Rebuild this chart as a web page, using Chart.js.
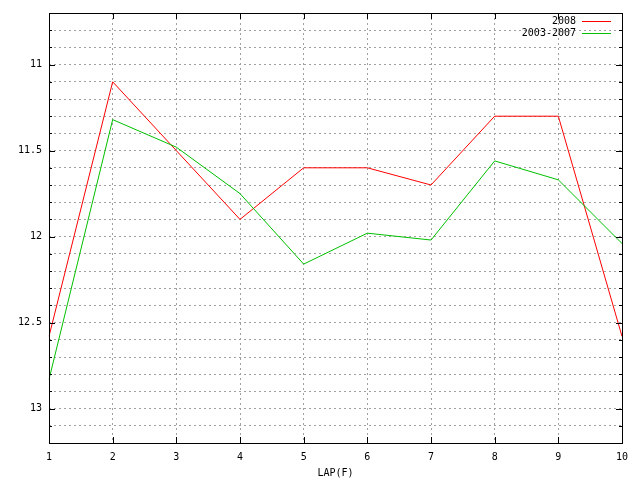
<!DOCTYPE html>
<html>
<head>
<meta charset="utf-8">
<script src="https://cdn.jsdelivr.net/npm/chart.js@4/dist/chart.umd.min.js"></script>
<style>
html,body{margin:0;padding:0;background:#fff;}
#wrap{width:640px;height:480px;position:relative;}
</style>
</head>
<body>
<div id="wrap"><canvas id="c" width="640" height="480"></canvas></div>
<script>
const laps = ['1','2','3','4','5','6','7','8','9','10'];
const series2008 = [12.58, 11.10, 11.50, 11.90, 11.60, 11.60, 11.70, 11.30, 11.30, 12.58];
const series2003_2007 = [12.83, 11.32, 11.48, 11.75, 12.16, 11.98, 12.02, 11.56, 11.67, 12.04];
const yTickLabels = ['11', '11.5', '12', '12.5', '13'];
const xTitle = 'LAP(F)';
const legendLabels = ['2008', '2003-2007'];
const seriesColors = ['#ff0000', '#00c000'];

const FONT = {family: "'DejaVu Sans Mono', 'Liberation Mono', monospace", size: 10};

const framePlugin = {
  id: 'frame',
  afterDraw(chart) {
    const {ctx, chartArea: a} = chart;
    const ys = chart.scales.y, xs = chart.scales.x;
    ctx.save();
    ctx.strokeStyle = '#000';
    ctx.lineWidth = 1;
    ctx.setLineDash([]);
    ctx.beginPath();
    ys.ticks.forEach(t => {
      const y = Math.round(ys.getPixelForValue(t.value)) + 0.5;
      const major = yTickLabels.includes(String(+t.value.toFixed(1)));
      const len = major ? 6 : 3;
      ctx.moveTo(a.left, y); ctx.lineTo(a.left + len, y);
      ctx.moveTo(a.right, y); ctx.lineTo(a.right - len, y);
    });
    xs.ticks.forEach((t, i) => {
      const x = Math.round(xs.getPixelForTick(i)) + 0.5;
      ctx.moveTo(x, a.bottom); ctx.lineTo(x, a.bottom - 6);
      ctx.moveTo(x, a.top); ctx.lineTo(x, a.top + 6);
    });
    ctx.stroke();
    ctx.strokeRect(Math.round(a.left) + 0.5, Math.round(a.top) + 0.5,
                   Math.round(a.right - a.left), Math.round(a.bottom - a.top));
    ctx.font = FONT.size + 'px ' + FONT.family;
    ctx.textAlign = 'right';
    ctx.textBaseline = 'middle';
    legendLabels.forEach((label, i) => {
      const y = 21 + i * 12;
      ctx.fillStyle = '#000';
      ctx.fillText(label, 576, y + 0.5);
      ctx.fillStyle = seriesColors[i];
      ctx.fillRect(582, y, 29, 1);
    });
    ctx.restore();
  }
};

new Chart(document.getElementById('c'), {
  type: 'line',
  data: {
    labels: laps,
    datasets: [
      {label: legendLabels[0], data: series2008, borderColor: seriesColors[0], borderWidth: 1, pointRadius: 0, tension: 0, fill: false, order: 2},
      {label: legendLabels[1], data: series2003_2007, borderColor: seriesColors[1], borderWidth: 1, pointRadius: 0, tension: 0, fill: false, order: 1}
    ]
  },
  options: {
    responsive: false,
    animation: false,
    devicePixelRatio: 1,
    layout: {padding: {top: 11, right: 18, left: 0, bottom: 0}},
    plugins: {legend: {display: false}, tooltip: {enabled: false}},
    scales: {
      x: {
        offset: false,
        grid: {color: '#a0a0a0', drawTicks: false, lineWidth: 1},
        border: {display: false, dash: [2, 3]},
        ticks: {color: '#000', font: FONT, padding: 8, maxRotation: 0, autoSkip: false},
        title: {display: true, text: xTitle, color: '#000', font: FONT, padding: {top: 2, bottom: 1}},
        afterFit(s) { s.height = 37; }
      },
      y: {
        reverse: true,
        min: 10.7,
        max: 13.2,
        grid: {color: '#a0a0a0', drawTicks: false, lineWidth: 1},
        border: {display: false, dash: [2, 3]},
        ticks: {
          stepSize: 0.1,
          color: '#000',
          font: FONT,
          padding: 7,
          autoSkip: false,
          callback(v) {
            const s = String(+(+v).toFixed(1));
            return yTickLabels.includes(s) ? s : '';
          }
        },
        afterFit(s) { s.width = 49; }
      }
    }
  },
  plugins: [framePlugin]
});
</script>
</body>
</html>
